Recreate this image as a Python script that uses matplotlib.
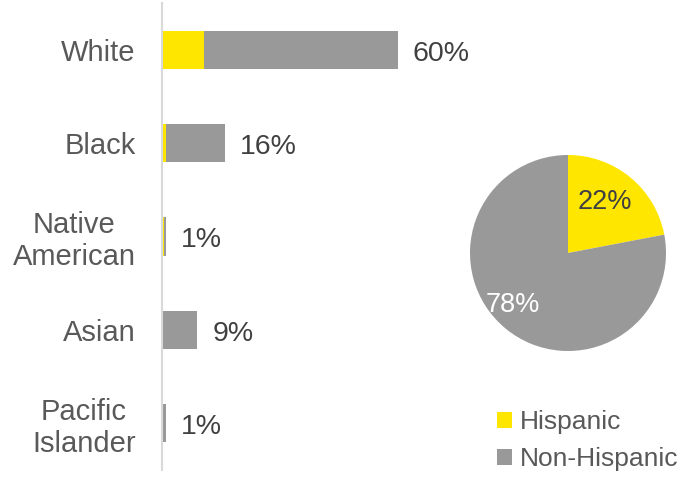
import matplotlib
matplotlib.use("Agg")
import matplotlib.pyplot as plt
from matplotlib.patches import Patch

plt.rcParams['font.family'] = ['Liberation Sans', 'DejaVu Sans']

categories = ["White", "Black", "Native\nAmerican", "Asian", "Pacific\nIslander"]
hispanic = [10.6, 1.0, 0.4, 0.2, 0.3]
non_hispanic = [49.4, 15.0, 0.6, 8.8, 0.7]
totals_labels = ["60%", "16%", "1%", "9%", "1%"]

pie_labels = ["Hispanic", "Non-Hispanic"]
pie_values = [22, 78]

YELLOW = "#FFE600"
GRAY = "#999999"
TEXT = "#404040"
LABEL = "#595959"

W, H = 679, 478
fig = plt.figure(figsize=(W / 100, H / 100), dpi=100)

# Bar axes
ax = fig.add_axes([162 / W, (H - 470) / H, 275 / W, 467 / H])
ax.set_facecolor("none")
y = list(range(len(categories)))
ax.barh(y, hispanic, height=0.41, color=YELLOW)
ax.barh(y, non_hispanic, left=hispanic, height=0.41, color=GRAY)
ax.set_xlim(0, 70)
ax.set_ylim(4.5, -0.5)
for i, lab in enumerate(totals_labels):
    ax.annotate(lab, xy=(hispanic[i] + non_hispanic[i], i), xytext=(15, -11),
                textcoords="offset pixels", va="baseline", ha="left",
                fontsize=20.5, color=TEXT)
ax.set_yticks(y)
ax.set_yticklabels(categories, fontsize=21, color=LABEL, multialignment="center",
                   linespacing=1.15)
ax.tick_params(axis="y", length=0, pad=19)
ax.set_xticks([])
for s in ["top", "right", "bottom"]:
    ax.spines[s].set_visible(False)
ax.spines["left"].set_color("#d9d9d9")
ax.spines["left"].set_linewidth(1.5)

# Pie axes
cx, cy, r = 568, 253, 98
pax = fig.add_axes([(cx - r) / W, (H - cy - r) / H, 2 * r / W, 2 * r / H])
wedges, _ = pax.pie(pie_values, colors=[YELLOW, GRAY], startangle=90,
                    counterclock=False, radius=1)
pax.set_aspect("equal")
pax.set_xlim(-1, 1)
pax.set_ylim(-1, 1)
pax.text(0.38, 0.52, "22%", fontsize=19.5, color=TEXT, ha="center", va="center")
pax.text(-0.56, -0.53, "78%", fontsize=19.5, color="white", ha="center", va="center")

# Legend
handles = [Patch(facecolor=YELLOW, edgecolor="none"), Patch(facecolor=GRAY, edgecolor="none")]
fig.legend(handles, pie_labels, loc="upper left", bbox_to_anchor=(497 / W, (H - 410) / H),
           frameon=False, fontsize=19, labelcolor=LABEL, handlelength=0.55,
           handleheight=0.55, handletextpad=0.3, labelspacing=0.5, borderaxespad=0,
           borderpad=0)

fig.savefig("out.png", dpi=100)
